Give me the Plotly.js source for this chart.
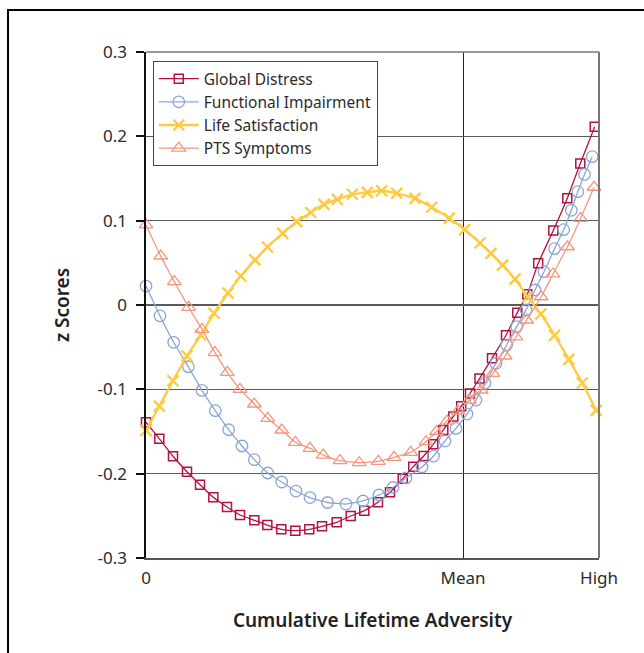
<!DOCTYPE html>
<html>
<head>
<meta charset="utf-8">
<script src="https://cdn.plot.ly/plotly-3.0.1.min.js"></script>
<style>
  html, body { margin: 0; padding: 0; background: #fff; }
  #chart { width: 644px; height: 653px; }
</style>
</head>
<body>
<div id="chart"></div>
<script>
// Cumulative lifetime adversity (0 = none, 70 = Mean, 100 = High)
const gdX = [0, 2.94, 5.96, 9.05, 11.92, 14.86, 17.88, 20.75, 23.91, 26.78, 29.87, 32.96, 36.05, 38.85, 42.1, 45.19, 48.19, 51.21, 53.86, 56.67, 59.0, 61.3, 63.42, 65.63, 67.84, 69.58, 71.52, 73.62, 76.38, 79.47, 81.96, 84.17, 86.58, 89.91, 93.0, 95.87, 99.05];
const gdY = [-0.139, -0.1585, -0.1794, -0.1977, -0.2131, -0.228, -0.2395, -0.249, -0.2553, -0.2609, -0.266, -0.2676, -0.266, -0.2624, -0.2577, -0.2502, -0.2439, -0.234, -0.2221, -0.206, -0.1917, -0.1791, -0.1652, -0.1482, -0.1322, -0.12, -0.1049, -0.0872, -0.0632, -0.0359, -0.0091, 0.0128, 0.0494, 0.0883, 0.1266, 0.1678, 0.2114];

const fiX = [0, 3.09, 6.11, 9.34, 12.36, 15.3, 18.26, 21.19, 23.91, 26.87, 29.96, 33.11, 36.2, 40.07, 44.15, 47.9, 51.43, 54.53, 57.4, 60.93, 63.47, 66.0, 68.43, 70.86, 72.85, 74.83, 77.26, 79.62, 81.83, 83.89, 85.87, 87.86, 90.18, 92.2, 93.89, 95.32, 96.8, 98.5];
const fiY = [0.0225, -0.013, -0.0442, -0.0732, -0.1012, -0.1253, -0.1479, -0.1672, -0.1834, -0.1992, -0.2099, -0.2206, -0.2283, -0.2342, -0.236, -0.2324, -0.2253, -0.2164, -0.2051, -0.1921, -0.1791, -0.1613, -0.1464, -0.1293, -0.1127, -0.0928, -0.0691, -0.0474, -0.0257, -0.0059, 0.0178, 0.0395, 0.0668, 0.0893, 0.1123, 0.1344, 0.1548, 0.1759];

const lsX = [0, 2.94, 5.96, 9.05, 12.08, 15.01, 18.1, 20.93, 24.06, 26.82, 30.18, 33.27, 36.36, 39.29, 42.23, 45.54, 48.85, 52.03, 55.34, 59.38, 63.07, 66.95, 70.35, 73.73, 76.16, 78.7, 81.46, 84.28, 87.15, 90.2, 93.33, 96.31, 99.4];
const lsY = [-0.1488, -0.1198, -0.0898, -0.0605, -0.0356, -0.0098, 0.0142, 0.0344, 0.0534, 0.0688, 0.085, 0.0988, 0.1097, 0.1194, 0.1253, 0.1313, 0.1336, 0.1355, 0.1325, 0.1265, 0.1159, 0.1028, 0.0895, 0.0735, 0.0613, 0.0474, 0.0306, 0.0098, -0.0107, -0.0359, -0.0644, -0.0925, -0.1249];

const ptsX = [0, 3.24, 6.25, 9.42, 12.36, 15.23, 17.95, 20.75, 23.91, 26.87, 29.96, 32.96, 36.2, 39.14, 42.83, 47.09, 51.28, 54.75, 58.43, 61.81, 64.13, 66.45, 68.87, 71.41, 74.0, 76.6, 79.29, 81.68, 84.04, 87.24, 89.85, 93.05, 95.96, 98.9];
const ptsY = [0.0949, 0.0581, 0.0277, -0.0028, -0.0289, -0.0565, -0.0799, -0.1, -0.1174, -0.1344, -0.1482, -0.1628, -0.17, -0.1779, -0.1846, -0.187, -0.1854, -0.1806, -0.1747, -0.1621, -0.15, -0.1376, -0.1257, -0.1127, -0.1008, -0.081, -0.0605, -0.0379, -0.0178, 0.0098, 0.0368, 0.0691, 0.1028, 0.1396];

const seriesNames = ['Global Distress', 'Functional Impairment', 'Life Satisfaction', 'PTS Symptoms'];
const xTickVals = [0, 70, 100];
const xTickText = ['0', 'Mean', 'High'];
const yTickVals = [-0.3, -0.2, -0.1, 0, 0.1, 0.2, 0.3];
const yTickText = ['-0.3', '-0.2', '-0.1', '0', '0.1', '0.2', '0.3'];

const FONT = '"Noto Sans", "Open Sans", sans-serif';

function series(x, y, name, color, symbol, size, lw, mlw) {
  return {
    x: x, y: y, name: name, type: 'scatter', mode: 'lines+markers',
    line: { color: color, width: lw, shape: 'spline', smoothing: 0.4 },
    marker: { symbol: symbol, size: size, color: color,
              line: { color: color, width: mlw } },
    cliponaxis: false
  };
}

const traces = [
  series(gdX, gdY, seriesNames[0], '#B3123F', 'square-open', 9, 1.3, 1.5),
  series(fiX, fiY, seriesNames[1], '#8AA6D6', 'circle-open', 11.5, 1.3, 1.3),
  series(lsX, lsY, seriesNames[2], '#FFC940', 'x-thin-open', 11, 2.3, 2.4),
  series(ptsX, ptsY, seriesNames[3], '#F5967E', 'triangle-up-open', 12, 1.3, 1.3)
];

const layout = {
  width: 644, height: 653,
  margin: { l: 146, r: 45, t: 52, b: 95 },
  paper_bgcolor: '#fff', plot_bgcolor: '#fff',
  font: { family: FONT, color: '#2b2b2b', size: 17 },
  showlegend: true,
  legend: {
    x: 0.015, y: 0.982, xanchor: 'left', yanchor: 'top',
    bgcolor: '#fff', bordercolor: '#444', borderwidth: 1,
    font: { family: FONT, size: 15.5, color: '#2b2b2b' },
    itemwidth: 40, tracegroupgap: 0
  },
  xaxis: {
    range: [0, 100], tickmode: 'array', tickvals: xTickVals, ticktext: xTickText,
    showgrid: true, gridcolor: '#222', gridwidth: 1,
    zeroline: false, showline: true, linecolor: '#555', linewidth: 1.5,
    ticks: '', ticklabelstandoff: 4, tickfont: { size: 17, color: '#2b2b2b' },
    title: { text: 'Cumulative Lifetime Adversity', standoff: 26,
             font: { size: 19, color: '#222', weight: 600 } }
  },
  yaxis: {
    range: [-0.3, 0.3], tickmode: 'array', tickvals: yTickVals, ticktext: yTickText,
    showgrid: true, gridcolor: '#5a5a5a', gridwidth: 1.4,
    zeroline: false, showline: true, linecolor: '#111', linewidth: 1.6,
    ticks: 'outside', ticklen: 8, tickwidth: 2, tickcolor: '#111',
    ticklabelstandoff: 6,
    tickfont: { size: 17, color: '#2b2b2b' },
    title: { text: 'z Scores', standoff: 23,
             font: { size: 19, color: '#222', weight: 600 } }
  },
  shapes: [
    { type: 'line', xref: 'paper', yref: 'paper', x0: 1, x1: 1, y0: 0, y1: 1,
      line: { color: '#777', width: 2 } },
    { type: 'line', xref: 'paper', yref: 'paper', x0: 0, x1: 1, y0: 1, y1: 1,
      line: { color: '#777', width: 1.5 } },
    { type: 'path', xref: 'paper', yref: 'paper',
      path: 'M -0.3046,-0.25 L -0.3046,1.083 L 1.2,1.083',
      line: { color: '#000', width: 2 } }
  ]
};

Plotly.newPlot('chart', traces, layout, { displayModeBar: false, staticPlot: true });
</script>
</body>
</html>
